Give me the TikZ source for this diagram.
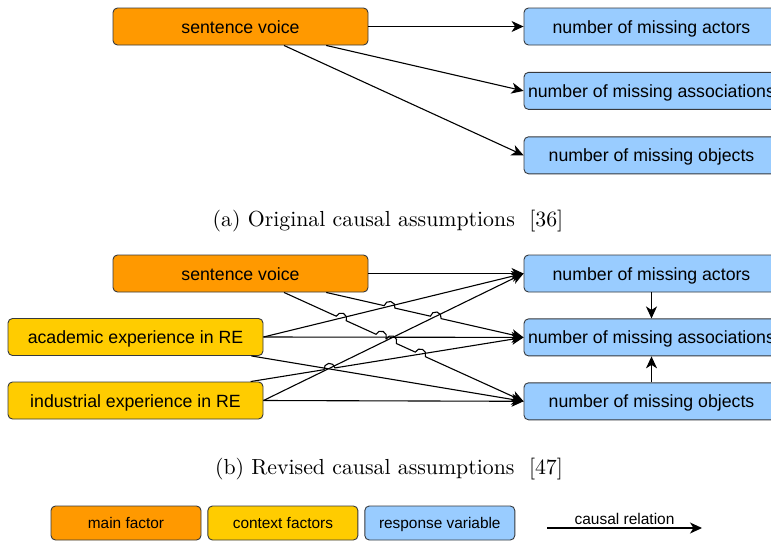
\documentclass[tikz,border=0pt]{standalone}
\usepackage{fontspec}
\newfontfamily\boxfont{Liberation Sans}
\newfontfamily\capfont{lmroman10-regular}[Extension=.otf]
\usetikzlibrary{arrows.meta}
\usetikzlibrary{calc}
\usetikzlibrary{positioning}

\definecolor{mainfill}{RGB}{255,153,0}
\definecolor{ctxfill}{RGB}{255,204,0}
\definecolor{respfill}{RGB}{153,204,255}
\definecolor{boxline}{RGB}{54,57,61}

\tikzset{
  factor/.style={draw=boxline,line width=0.9pt,rounded corners=4.5pt,
    minimum width=255pt,minimum height=37pt,inner sep=0pt,
    text height=13pt,text depth=0pt,
    font=\boxfont\fontsize{17.7}{20}\selectfont},
  mainbox/.style={factor,fill=mainfill},
  ctxbox/.style={factor,fill=ctxfill},
  respbox/.style={factor,fill=respfill},
  legbox/.style={minimum width=150pt,minimum height=34pt,
    text height=11.2pt,text depth=0pt,
    font=\boxfont\fontsize{15.4}{18}\selectfont},
  link/.style={draw,line width=1.1pt,->,>={Stealth[length=12pt,width=11pt,inset=3.5pt]}},
  links/.style={every edge/.style=link},
  caption/.style={anchor=base,font=\capfont\fontsize{21.8}{26}\selectfont}
}

\newcommand\hoprad{5.5pt}
\newcommand\hopline[3]{%
  \draw [link] let \p1=($(#2)-(#1)$), \n1={atan2(\y1,\x1)} in
    (#1) \foreach \t in {#3} {
      -- ($(#1)!\t!(#2)!\hoprad!(#1)$)
      arc [start angle=\n1+180, delta angle=-180, radius=\hoprad] } -- (#2);}

\begin{document}
\begin{tikzpicture}[x=1pt,y=-1pt]

  \useasboundingbox (0,0) rectangle (771,541);

  \node [mainbox] (sv) at (240.5,26.5) {sentence voice};
  \node [respbox] (actors) at (651.5,26.5) {number of missing actors};
  \node [respbox,below=26.5pt of actors] (assoc) {number of missing associations};
  \node [respbox,below=26.5pt of assoc] (objects) {number of missing objects};

  \coordinate (svA) at ($(sv.south west)!0.67!(sv.south east)$);
  \coordinate (svB) at ($(sv.south west)!0.835!(sv.south east)$);

  \path [links]
    (sv.east) edge (actors.west)
    (svB)     edge (assoc.west)
    (svA)     edge (objects.west);

  \node [caption] (capA) at (388,226.7) {(a) Original causal assumptions\ \ [36]};

  \node [mainbox] (sv2) at (240.5,273.5) {sentence voice};
  \node [ctxbox] (acad) at (135.5,337) {academic experience in RE};
  \node [ctxbox] (ind) at (135.5,400.5) {industrial experience in RE};
  \node [respbox] (actors2) at (651.5,273.5) {number of missing actors};
  \node [respbox,below=26pt of actors2] (assoc2) {number of missing associations};
  \node [respbox,below=26pt of assoc2] (objects2) {number of missing objects};

  \coordinate (sv2A) at ($(sv2.south west)!0.67!(sv2.south east)$);
  \coordinate (sv2B) at ($(sv2.south west)!0.835!(sv2.south east)$);
  \coordinate (acadS) at ($(acad.south west)!0.953!(acad.south east)$);
  \coordinate (indN) at ($(ind.north west)!0.95!(ind.north east)$);

  \path [links]
    (sv2.east)  edge (actors2.west)
    (acad.east) edge (actors2.west)
    (acad.east) edge (assoc2.west)
    (acadS)     edge (objects2.west)
    (ind.east)  edge (actors2.west)
    (ind.east)  edge (objects2.west)
    (actors2.south)  edge (assoc2.north)
    (objects2.north) edge (assoc2.south);

  \hopline{indN}{assoc2.west}{0.289}
  \hopline{sv2B}{assoc2.west}{0.321,0.555}
  \hopline{sv2A}{objects2.west}{0.239,0.405,0.448,0.569}

  \node [caption] (capB) at (389,474.7) {(b) Revised causal assumptions\ \ [47]};

  \node [factor,legbox,fill=mainfill] (legMain) at (126,523) {main factor};
  \node [factor,legbox,fill=ctxfill,right=6pt of legMain] (legCtx) {context factors};
  \node [factor,legbox,fill=respfill,right=6pt of legCtx] (legResp) {response variable};

  \coordinate (relA) at (547,528);
  \coordinate (relB) at (702,528);
  \draw [link] (relA) -- node [above=2.5pt,inner sep=0pt,font=\boxfont\fontsize{15.5}{18}\selectfont] (relText) {causal relation} (relB);

\end{tikzpicture}
\end{document}
